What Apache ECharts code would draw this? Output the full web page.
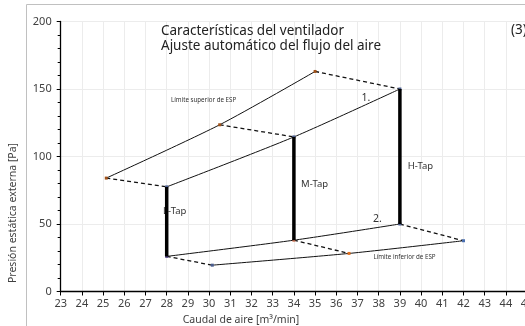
<!DOCTYPE html>
<html>
<head>
<meta charset="utf-8">
<style>
  html, body { margin: 0; padding: 0; background: #fff; }
  #chart { width: 525px; height: 326px; }
</style>
<script src="https://cdn.jsdelivr.net/npm/echarts@6/dist/echarts.min.js"></script>
</head>
<body>
<div id="chart"></div>
<script>
// Airflow [m³/min] vs external static pressure [Pa]
const upperLimit = [[25.15, 84], [30.5, 123.5], [35, 163]];   // Límite superior de ESP
const curveOne   = [[28, 77.5], [34, 114.5], [39, 150]];      // curva 1.
const curveTwo   = [[28, 26], [34, 38], [39, 50]];            // curva 2.
const lowerLimit = [[30.15, 19.5], [36.6, 28.2], [42, 37.6]]; // Límite inferior de ESP
const tapNames   = ['L-Tap', 'M-Tap', 'H-Tap'];

const xTicks = { min: 23, max: 45, step: 1 };
const yTicks = { min: 0, max: 200, step: 50 };

const FONT = '"Noto Sans", "DejaVu Sans", sans-serif';

const chart = echarts.init(document.getElementById('chart'));

function solidCurve(data, colors) {
  return {
    type: 'line', data: data, smooth: 0.25,
    symbol: 'rect', symbolSize: 3,
    lineStyle: { color: '#111', width: 1 },
    itemStyle: { color: function (p) { return colors[p.dataIndex]; } },
    z: 3
  };
}

function dashedLink(a, b) {
  return {
    type: 'line', data: [a, b], symbol: 'none',
    lineStyle: { color: '#111', width: 1.3, type: [4, 3] },
    z: 3
  };
}

function tapLine(bottom, top) {
  return {
    type: 'line', data: [bottom, top], symbol: 'none',
    lineStyle: { color: '#000', width: 3.5 },
    z: 4
  };
}

const series = [];
for (let i = 0; i < 3; i++) {
  series.push(dashedLink(upperLimit[i], curveOne[i]));
  series.push(dashedLink(curveTwo[i], lowerLimit[i]));
  series.push(tapLine(curveTwo[i], curveOne[i]));
}
series.push(solidCurve(upperLimit, ['#a0521a', '#a0521a', '#a0521a']));
series.push(solidCurve(curveOne, ['#4a5d8f', '#4a5d8f', '#4a5d8f']));
series.push(solidCurve(curveTwo, ['#5a4a8f', '#d07050', '#4a5d8f']));
series.push(solidCurve(lowerLimit, ['#4a5d8f', '#e07020', '#4a6fb0']));

chart.setOption({
  animation: false,
  grid: { left: 60.7, top: 21.5, width: 466.4, height: 270, outerBoundsMode: 'none', containLabel: false },
  xAxis: {
    type: 'value', min: xTicks.min, max: xTicks.max, interval: xTicks.step,
    axisLine: { lineStyle: { color: '#000', width: 1.3 } },
    axisTick: { show: true, length: 4, lineStyle: { color: '#000' } },
    axisLabel: { color: '#404040', fontFamily: FONT, fontSize: 11, margin: 7 },
    splitLine: { show: true, lineStyle: { color: '#ececec', width: 1 } }
  },
  yAxis: {
    type: 'value', min: yTicks.min, max: yTicks.max, interval: yTicks.step,
    axisLine: { show: true, lineStyle: { color: '#000', width: 1.3 } },
    axisTick: { show: true, length: 4, lineStyle: { color: '#000' } },
    minorTick: { show: true, splitNumber: 5, length: 3, lineStyle: { color: '#000' } },
    axisLabel: { color: '#404040', fontFamily: FONT, fontSize: 11, margin: 9 },
    splitLine: { show: true, lineStyle: { color: '#ececec', width: 1 } }
  },
  series: series
});

// Text annotations placed in data coordinates
const notes = [
  { text: '1.', at: [37.4, 143.3], size: 10.5, align: 'center' },
  { text: '2.', at: [37.94, 53.7], size: 10.5, align: 'center' },
  { text: tapNames[0], at: [27.83, 59.6], size: 9.5, align: 'left' },
  { text: tapNames[1], at: [34.34, 79.6], size: 9.5, align: 'left' },
  { text: tapNames[2], at: [39.37, 93], size: 9.5, align: 'left' },
  { text: 'Límite superior de ESP', at: [28.2, 141.8], size: 6.2, align: 'left' },
  { text: 'Límite inferior de ESP', at: [37.75, 25.3], size: 6.2, align: 'left' }
];

const graphics = [
  {
    type: 'rect', shape: { x: 26.5, y: 4.5, width: 700, height: 500 },
    style: { fill: 'none', stroke: '#c0c0c0', lineWidth: 1 }, silent: true, z: -1
  },
  {
    type: 'text', left: 161, top: 23,
    style: {
      text: 'Características del ventilador\nAjuste automático del flujo del aire',
      font: '13.5px ' + FONT, fill: '#222', lineHeight: 15.5
    }
  },
  {
    type: 'text', left: 511, top: 23,
    style: { text: '(3)', font: '13.5px ' + FONT, fill: '#222' }
  },
  {
    type: 'text', x: 13, y: 213, rotation: Math.PI / 2,
    style: {
      text: 'Presión estática externa [Pa]', font: '10.5px ' + FONT,
      fill: '#404040', align: 'center', verticalAlign: 'middle'
    }
  },
  {
    type: 'text', x: 241, y: 320,
    style: {
      text: 'Caudal de aire [m³/min]', font: '10.5px ' + FONT,
      fill: '#404040', align: 'center', verticalAlign: 'middle'
    }
  }
];

notes.forEach(function (n) {
  const p = chart.convertToPixel({ gridIndex: 0 }, n.at);
  graphics.push({
    type: 'text', x: p[0], y: p[1], z: 1,
    style: {
      text: n.text, font: n.size + 'px ' + FONT, fill: '#333',
      align: n.align, verticalAlign: 'middle'
    }
  });
});

chart.setOption({ graphic: graphics });
</script>
</body>
</html>
